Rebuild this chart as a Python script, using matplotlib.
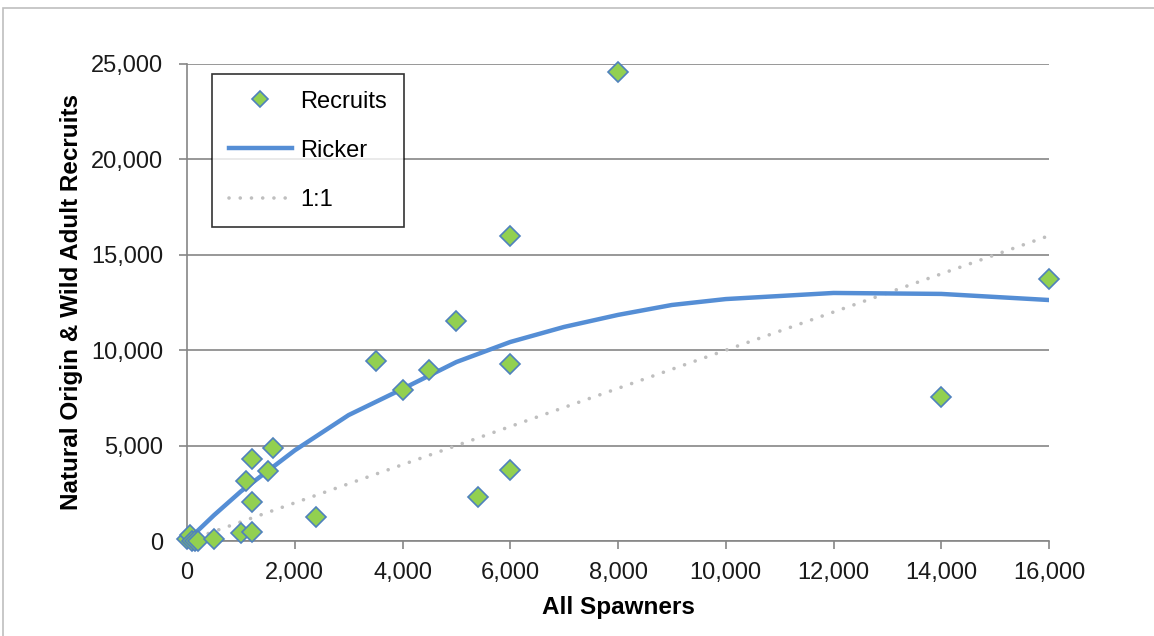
import matplotlib
matplotlib.use("Agg")
import matplotlib.pyplot as plt
from matplotlib.patches import Rectangle
from matplotlib.ticker import FuncFormatter, MultipleLocator

# Data
spawners = [0, 50, 100, 150, 200, 500, 1000, 1200, 1100, 1200, 1200, 1500, 1600,
            2400, 3500, 4000, 4500, 5000, 5400, 6000, 6000, 6000, 8000, 14000, 16000]
recruits = [100, 300, 0, 0, 0, 100, 400, 450, 3150, 4300, 2050, 3650, 4900,
            1250, 9450, 7900, 8950, 11550, 2300, 16000, 9300, 3700, 24600, 7550, 13750]

ricker_s = [0, 500, 1000, 2000, 3000, 4000, 5000, 6000, 7000, 8000, 9000, 10000,
            12000, 14000, 16000]
ricker_r = [0, 1350, 2600, 4750, 6600, 7970, 9380, 10430, 11220, 11850, 12370,
            12680, 13000, 12950, 12630]

one_s = [0, 16000]
one_r = [0, 16000]

plt.rcParams['font.family'] = ['Liberation Sans', 'DejaVu Sans']

fig = plt.figure(figsize=(11.54, 6.36), dpi=100)
ax = fig.add_axes([187/1154, 1-541/636, (1049-187)/1154, (541-64)/636])

# outer chart border
fig.patches.append(Rectangle((3/1154, -0.05), 1.1, 1-8/636+0.05, transform=fig.transFigure,
                             fill=False, edgecolor='#BFBFBF', linewidth=1.2))

ax.plot(one_s, one_r, linestyle=(0, (0.01, 3.1)), color='#BFBFBF', linewidth=2.6,
        dash_capstyle='round', label='1:1', zorder=2)
ax.plot(ricker_s, ricker_r, color='#558ED5', linewidth=3.2, label='Ricker',
        solid_joinstyle='round', zorder=3)
ax.plot(spawners, recruits, linestyle='none', marker='D', markersize=10,
        markerfacecolor='#92D050', markeredgecolor='#4F81BD', markeredgewidth=1.2,
        label='Recruits', zorder=4, clip_on=False)

ax.set_xlim(0, 16000)
ax.set_ylim(0, 25000)
ax.xaxis.set_major_locator(MultipleLocator(2000))
ax.yaxis.set_major_locator(MultipleLocator(5000))
fmt = FuncFormatter(lambda v, p: f"{int(v):,}")
ax.xaxis.set_major_formatter(fmt)
ax.yaxis.set_major_formatter(fmt)

ax.grid(axis='y', color='#868686', linewidth=1.2)
ax.set_axisbelow(True)
for s in ['top', 'right']:
    ax.spines[s].set_visible(False)
for s in ['left', 'bottom']:
    ax.spines[s].set_color('#868686')
    ax.spines[s].set_linewidth(1.2)
ax.tick_params(axis='both', direction='out', length=6, width=1.2, color='#868686',
               labelsize=17, labelcolor='#1a1a1a')
ax.tick_params(axis='x', pad=9)
ax.tick_params(axis='y', pad=11)

ax.set_xlabel('All Spawners', fontsize=17.5, fontweight='bold', labelpad=9)
ax.set_ylabel('Natural Origin & Wild Adult Recruits', fontsize=17.5, fontweight='bold', labelpad=6)

handles, labels = ax.get_legend_handles_labels()
order = [2, 1, 0]
leg = ax.legend([handles[i] for i in order], [labels[i] for i in order],
                loc='upper left', bbox_to_anchor=((212-187)/862, 1-(74-64)/477),
                fontsize=17, frameon=True, fancybox=False, edgecolor='black',
                borderpad=0.7, labelspacing=1.15, handlelength=2.7, handletextpad=0.35,
                borderaxespad=0)
leg.get_frame().set_linewidth(1.2)
for h in leg.legend_handles:
    if hasattr(h, 'get_marker') and h.get_marker() == 'D':
        h.set_markersize(8)

fig.savefig('out.png', dpi=100)
